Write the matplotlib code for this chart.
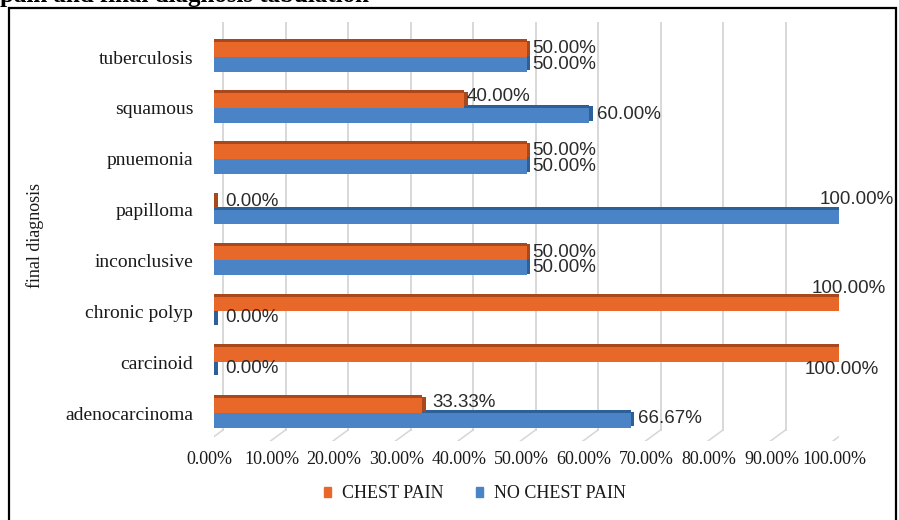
import matplotlib
matplotlib.use('Agg')
import matplotlib.pyplot as plt
import matplotlib.transforms as mtransforms
from matplotlib.patches import Patch, Rectangle
import numpy as np

# categories listed top to bottom as in the chart
diagnoses = ['tuberculosis', 'squamous', 'pnuemonia', 'papilloma',
             'inconclusive', 'chronic polyp', 'carcinoid', 'adenocarcinoma']
chest_pain = [50.00, 40.00, 50.00, 0.00, 50.00, 100.00, 100.00, 33.33]
no_chest_pain = [50.00, 60.00, 50.00, 100.00, 50.00, 0.00, 0.00, 66.67]
series_names = ['CHEST PAIN', 'NO CHEST PAIN']
x_ticks = [0, 10, 20, 30, 40, 50, 60, 70, 80, 90, 100]

orange, orange_dark = '#E8682A', '#A9481B'
blue, blue_dark = '#4A84C7', '#2D5F99'
serif = 'Liberation Serif'

# label offsets in pixels (dx, dy) for each bar, top to bottom
orange_offs = [(6, 1), (3, 4), (6, 1), (11, 1), (6, 1), (-27, 15), (-34, -15), (10, 3)]
blue_offs = [(6, 0), (8, 1), (6, 0), (-19, 18), (6, 0), (11, 1), (11, 1), (7, 2)]

fig = plt.figure(figsize=(8.99, 5.2), dpi=100)
W, H = 899, 520
ax = fig.add_axes([214 / W, 1 - 441 / H, (839 - 214) / W, (441 - 22) / H])

n = len(diagnoses)
y = np.arange(n)[::-1]  # tuberculosis at top
bh = 0.29
face = 0.06
ax.set_xlim(0, 100)
ax.set_ylim(-0.55, n - 1 + 0.69)

# 3D-ish back wall gridlines, shifted right of the bar origin
back = ax.get_xaxis_transform() + mtransforms.ScaledTranslation(9 / 100, 0, fig.dpi_scale_trans)
front = ax.get_xaxis_transform() + mtransforms.ScaledTranslation(-6 / 100, 0, fig.dpi_scale_trans)
floor = 11 / 419
for t in x_ticks:
  ax.plot([t, t], [floor, 1.0], transform=back, color='#d6d6d6', lw=1.3, zorder=0)
  p0 = back.transform((t, floor))
  p1 = front.transform((t, 0))
  ax.plot([p0[0], p1[0]], [p0[1], p1[1]], transform=None, color='#d6d6d6', lw=1.1, zorder=0)

# blue bars (lower half of each category)
yb = y - bh / 2
ax.barh(yb + bh / 2 + face / 2, no_chest_pain, height=face, color=blue_dark, zorder=2)
ax.barh(yb, no_chest_pain, height=bh, color=blue, zorder=3)
ax.barh(yb + face / 2, 0.6, left=no_chest_pain, height=bh, color=blue_dark, zorder=3)

# orange bars (upper half)
yo = y + bh / 2
ax.barh(yo + bh / 2 + face / 2, chest_pain, height=face, color=orange_dark, zorder=4)
ax.barh(yo, chest_pain, height=bh, color=orange, zorder=5)
ax.barh(yo + face / 2, 0.6, left=chest_pain, height=bh, color=orange_dark, zorder=5)

label_font = dict(family='Liberation Sans', fontsize=13.5, color='#2b2b2b', va='center', ha='left')
for i in range(n):
  dx, dy = orange_offs[i]
  ax.annotate(f'{chest_pain[i]:.2f}%', xy=(chest_pain[i], yo[i]), xytext=(dx, dy),
              textcoords='offset pixels', zorder=6, **label_font)
  dx, dy = blue_offs[i]
  ax.annotate(f'{no_chest_pain[i]:.2f}%', xy=(no_chest_pain[i], yb[i]), xytext=(dx, dy),
              textcoords='offset pixels', zorder=6, **label_font)

ax.set_yticks(y)
ax.set_yticklabels(diagnoses, family=serif, fontsize=14, color='#1a1a1a')
ax.set_xticks(x_ticks)
ax.set_xticklabels([f'{t:.2f}%' for t in x_ticks], family=serif, fontsize=13, color='#1a1a1a')
ax.tick_params(axis='y', length=0, pad=15)
ax.tick_params(axis='x', length=0, pad=7)
shift = mtransforms.ScaledTranslation(-5 / 100, 0, fig.dpi_scale_trans)
for lab in ax.get_xticklabels():
  lab.set_transform(lab.get_transform() + shift)
for s in ax.spines.values():
  s.set_visible(False)

fig.text(35 / W, 1 - 235 / H, 'final diagnosis', rotation=90, family=serif,
         fontsize=13, color='#1a1a1a', ha='center', va='center')

handles = [Patch(color=orange), Patch(color=blue)]
fig.legend(handles, series_names, loc='center', bbox_to_anchor=(475 / W, 1 - 494 / H),
           ncol=2, frameon=False, prop=dict(family=serif, size=13),
           handlelength=0.4, handleheight=0.4, handletextpad=0.6, columnspacing=1.8,
           labelcolor='#1a1a1a')

# frame of the cropped figure and leftover title text
fig.patches.append(Rectangle((9 / W, -0.05), (896 - 9) / W, 1.05 - 8 / H, transform=fig.transFigure,
                             fill=False, edgecolor='black', lw=1.6))
fig.text(0, 1 - 2 / H, 'pain and final diagnosis tabulation', family=serif, weight='bold',
         fontsize=18, ha='left', va='baseline')

fig.savefig('out.png', dpi=100)
